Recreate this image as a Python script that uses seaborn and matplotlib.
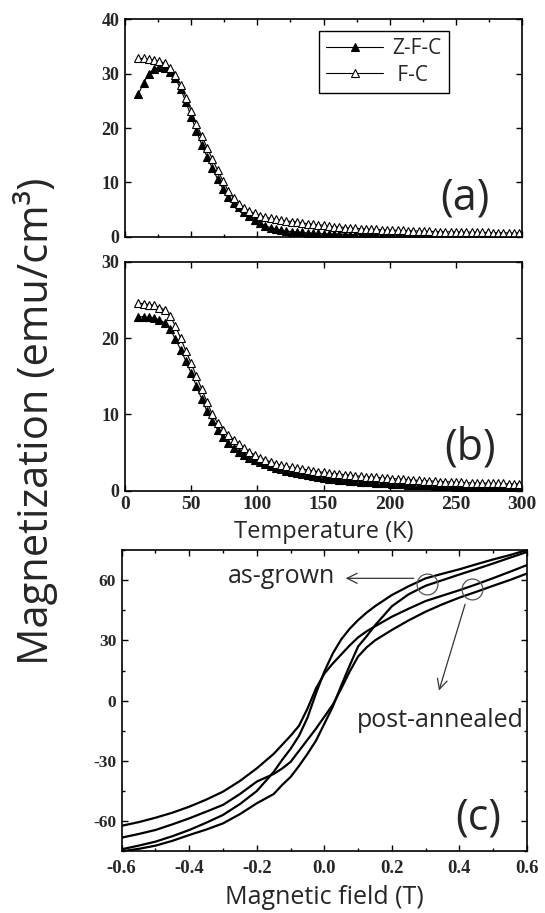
import numpy as np
import matplotlib
matplotlib.use('Agg')
import matplotlib.pyplot as plt
import seaborn as sns

sns.set_style('ticks')
plt.rcParams['font.family'] = ['Open Sans', 'DejaVu Sans']
plt.rcParams['axes.unicode_minus'] = False

# ---- temperature sweeps (K) ----
temp = np.arange(10, 300, 4)

zfc_a = [26.2, 28.3, 30.0, 30.9, 31.2, 31.0, 30.4, 29.2, 27.2, 24.8,
         22.1, 19.4, 16.9, 14.7, 12.6, 10.6, 8.8, 7.4, 6.3, 5.4,
         4.6, 3.8, 3.1, 2.5, 2.0, 1.7, 1.4, 1.2, 1.05, 0.95,
         0.85, 0.8, 0.7, 0.65, 0.6, 0.55, 0.5, 0.5, 0.45, 0.45,
         0.4, 0.4, 0.4, 0.35, 0.35, 0.35, 0.3, 0.3, 0.3, 0.3,
         0.3, 0.3, 0.3, 0.3, 0.3, 0.3, 0.25, 0.25, 0.25, 0.25,
         0.25, 0.25, 0.25, 0.25, 0.2, 0.2, 0.2, 0.2, 0.2, 0.2,
         0.2, 0.2, 0.2]
fc_a = [32.8, 32.8, 32.7, 32.5, 32.3, 31.9, 31.0, 29.7, 28.0, 25.6,
        23.2, 20.8, 18.5, 16.4, 14.3, 12.2, 10.3, 8.4, 7.1, 6.1,
        5.3, 4.7, 4.3, 3.9, 3.6, 3.4, 3.2, 3.05, 2.9, 2.8,
        2.7, 2.55, 2.4, 2.3, 2.2, 2.1, 1.95, 1.85, 1.8, 1.7,
        1.6, 1.55, 1.5, 1.45, 1.4, 1.35, 1.3, 1.25, 1.2, 1.2,
        1.15, 1.1, 1.1, 1.05, 1.0, 1.0, 0.95, 0.95, 0.9, 0.9,
        0.9, 0.85, 0.85, 0.85, 0.8, 0.8, 0.8, 0.75, 0.75, 0.75,
        0.7, 0.7, 0.7]
zfc_b = [22.8, 22.8, 22.7, 22.6, 22.4, 22.0, 21.2, 19.9, 18.5, 17.0,
         15.4, 13.7, 12.0, 10.4, 9.1, 8.0, 7.0, 6.2, 5.6, 5.1,
         4.7, 4.3, 4.0, 3.7, 3.45, 3.2, 3.0, 2.8, 2.6, 2.45,
         2.3, 2.15, 2.0, 1.9, 1.75, 1.65, 1.55, 1.5, 1.4, 1.35,
         1.3, 1.25, 1.2, 1.15, 1.1, 1.05, 1.0, 0.95, 0.9, 0.85,
         0.85, 0.8, 0.75, 0.75, 0.7, 0.7, 0.65, 0.65, 0.6, 0.6,
         0.55, 0.55, 0.5, 0.5, 0.5, 0.45, 0.45, 0.45, 0.4, 0.4,
         0.4, 0.4, 0.4]
fc_b = [24.6, 24.5, 24.4, 24.3, 24.0, 23.7, 22.9, 21.6, 20.0, 18.3,
        16.7, 15.0, 13.3, 11.6, 10.0, 8.9, 8.0, 7.3, 6.7, 6.1,
        5.6, 5.1, 4.7, 4.3, 4.05, 3.8, 3.55, 3.35, 3.2, 3.05,
        2.95, 2.85, 2.75, 2.6, 2.5, 2.4, 2.3, 2.25, 2.2, 2.1,
        2.05, 1.95, 1.9, 1.85, 1.8, 1.75, 1.7, 1.65, 1.6, 1.55,
        1.5, 1.45, 1.4, 1.35, 1.3, 1.3, 1.25, 1.2, 1.2, 1.15,
        1.1, 1.1, 1.05, 1.05, 1.0, 1.0, 1.0, 0.95, 0.95, 0.95,
        0.9, 0.9, 0.9]

# ---- hysteresis loops (T, emu/cm3) ----
field_down = [0.6, 0.55, 0.5, 0.45, 0.4, 0.35, 0.3, 0.25, 0.2, 0.15, 0.125,
              0.1, 0.075, 0.05, 0.025, 0.0, -0.025, -0.05, -0.075, -0.1,
              -0.125, -0.15, -0.2, -0.25, -0.3, -0.35, -0.4, -0.45, -0.5,
              -0.55, -0.6]
field_up = field_down[::-1]

grown_down = [75.0, 72.5, 70.3, 67.9, 65.4, 63.2, 60.9, 57.0, 52.6, 47.0, 43.8,
              40.1, 35.8, 30.5, 23.5, 14.5, 3.5, -8.5, -17.5, -24.0,
              -29.5, -35.5, -45.0, -51.5, -56.9, -60.8, -64.4, -67.5, -70.2,
              -72.2, -74.0]
grown_up = [-75.0, -73.8, -72.2, -69.8, -66.9, -64.2, -61.1, -56.5, -51.1, -46.5,
            -42.0, -38.0, -32.5, -26.5, -20.0, -11.5, -3.0, 7.5, 17.5, 27.0,
            32.0, 37.5, 47.0, 53.0, 57.2, 60.0, 62.8, 65.5, 68.3, 71.2, 74.0]
anneal_down = [67.5, 64.2, 61.0, 57.9, 55.0, 52.3, 49.6, 45.8, 41.8, 37.0, 34.5,
               31.5, 27.5, 23.0, 18.5, 13.5, 6.0, -4.0, -12.5, -17.5,
               -22.0, -26.5, -33.7, -40.0, -45.3, -49.3, -52.8, -55.8, -58.3,
               -60.5, -62.3]
anneal_up = [-68.2, -66.4, -64.4, -61.6, -58.6, -55.3, -51.9, -46.5, -40.3, -36.5,
             -33.8, -30.5, -25.0, -19.5, -14.0, -8.0, -2.0, 6.0, 14.5, 22.0,
             26.5, 30.0, 35.2, 40.0, 44.3, 48.0, 51.3, 54.2, 57.2, 60.1, 63.3]

tick_font = dict(fontfamily='Liberation Serif', fontweight='bold', fontsize=13)

fig = plt.figure(figsize=(5.45, 9.13), dpi=100)
ax_a = fig.add_axes([0.2294, 0.7407, 0.7284, 0.2381])
ax_b = fig.add_axes([0.2294, 0.4625, 0.7284, 0.2508])
ax_c = fig.add_axes([0.2233, 0.0676, 0.7437, 0.3300])

for ax in (ax_a, ax_b, ax_c):
    for s in ax.spines.values():
        s.set_linewidth(1.2)
        s.set_color('black')
    ax.tick_params(which='both', direction='in', top=True, right=True,
                   width=1, color='black', pad=4)
    ax.tick_params(which='major', length=4)
    ax.tick_params(which='minor', length=2.5)

# (a) and (b): ZFC / FC curves
for ax, zfc, fc in ((ax_a, zfc_a, fc_a), (ax_b, zfc_b, fc_b)):
    sns.lineplot(x=temp, y=zfc, ax=ax, color='black', linewidth=0.8,
                 marker='^', markersize=5.5, markerfacecolor='black',
                 markeredgecolor='black', markeredgewidth=0.8, label='Z-F-C')
    sns.lineplot(x=temp, y=fc, ax=ax, color='black', linewidth=0.8,
                 marker='^', markersize=5.5, markerfacecolor='white',
                 markeredgecolor='black', markeredgewidth=0.8, label=' F-C')
    ax.set_xlim(0, 300)
    ax.set_xticks([0, 50, 100, 150, 200, 250, 300])

ax_a.set_ylim(0, 40)
ax_a.set_yticks([0, 10, 20, 30, 40], ['0', '10', '20', '30', '40'], **tick_font)
ax_a.set_xticks(np.arange(0, 301, 25), minor=True)
ax_a.tick_params(labelbottom=False)
ax_a.set_xlabel('')
leg = ax_a.legend(loc='upper left', bbox_to_anchor=(0.489, 0.946), fontsize=15,
                  frameon=True, fancybox=False, edgecolor='black', framealpha=1,
                  handlelength=2.7, handletextpad=0.45, labelspacing=0.25,
                  borderpad=0.35, borderaxespad=0)
leg.get_frame().set_linewidth(1.0)
ax_a.text(0.856, 0.178, '(a)', transform=ax_a.transAxes, ha='center',
          va='center', fontsize=31)

ax_b.set_ylim(0, 30)
ax_b.set_yticks([0, 10, 20, 30], ['0', '10', '20', '30'], **tick_font)
ax_b.set_xticks([0, 50, 100, 150, 200, 250, 300],
                ['0', '50', '100', '150', '200', '250', '300'],
                **dict(tick_font, fontsize=14))
ax_b.get_legend().remove()
ax_b.set_xlabel('Temperature (K)', fontsize=17, labelpad=5)
ax_b.text(0.869, 0.186, '(b)', transform=ax_b.transAxes, ha='center',
          va='center', fontsize=31)

# (c): hysteresis loops
for fld, mag in ((field_down, grown_down), (field_up, grown_up),
                 (field_down, anneal_down), (field_up, anneal_up)):
    sns.lineplot(x=fld, y=mag, ax=ax_c, color='black', linewidth=1.6,
                 sort=False, estimator=None)

ax_c.set_xlim(-0.6, 0.6)
ax_c.set_ylim(-75, 75)
ax_c.set_xticks([-0.6, -0.4, -0.2, 0.0, 0.2, 0.4, 0.6],
                ['-0.6', '-0.4', '-0.2', '0.0', '0.2', '0.4', '0.6'],
                **dict(tick_font, fontsize=13.5))
ax_c.set_xticks(np.arange(-0.6, 0.61, 0.1), minor=True)
ax_c.set_yticks([-60, -30, 0, 30, 60], ['-60', '-30', '0', '30', '60'],
                **dict(tick_font, fontsize=12.5))
ax_c.set_yticks(np.arange(-75, 76, 15), minor=True)
ax_c.tick_params(axis='x', pad=6)
ax_c.set_xlabel('Magnetic field (T)', fontsize=18, labelpad=6)

# circles and arrows
ax_c.plot([0.303, 0.438], [57.9, 55.4], linestyle='none', marker='o',
          markersize=15, markerfacecolor='none', markeredgecolor='#555555',
          markeredgewidth=0.9)
ax_c.annotate('', xy=(0.055, 60.9), xytext=(0.273, 60.9),
              arrowprops=dict(arrowstyle='->', color='#333333', lw=0.9,
                              mutation_scale=18))
ax_c.annotate('', xy=(0.337, 3.7), xytext=(0.419, 49.3),
              arrowprops=dict(arrowstyle='->', color='#333333', lw=0.9,
                              mutation_scale=18))
ax_c.text(-0.286, 58.4, 'as-grown', fontsize=18, ha='left', va='baseline')
ax_c.text(0.096, -13.0, 'post-annealed', fontsize=18, ha='left', va='baseline')
ax_c.text(0.879, 0.11, '(c)', transform=ax_c.transAxes, ha='center',
          va='center', fontsize=31)

fig.text(0.066, 0.539, 'Magnetization (emu/cm³)', rotation=90,
         ha='center', va='center', fontsize=30)

fig.savefig('out.png', dpi=100)
